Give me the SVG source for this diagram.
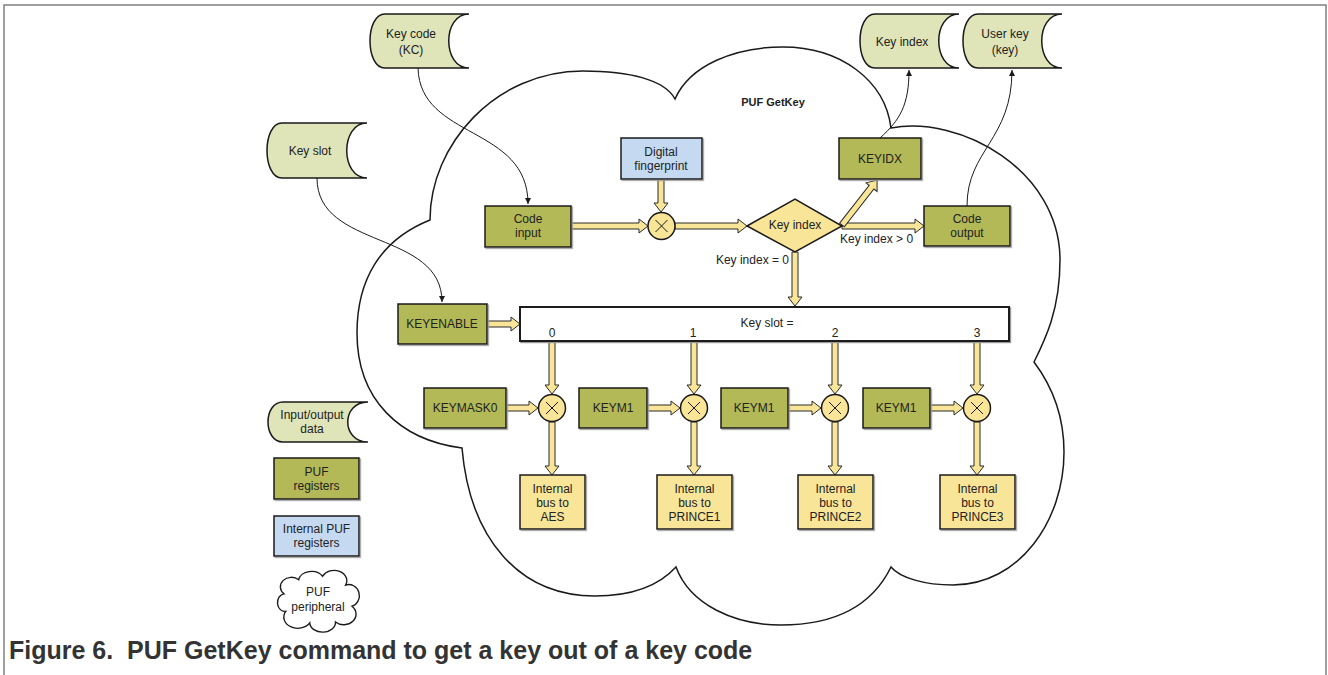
<svg xmlns="http://www.w3.org/2000/svg" width="1328" height="675" viewBox="0 0 1328 675">
<defs>
<style>
text{font-family:"Liberation Sans",Arial,sans-serif;font-size:12px;fill:#222;text-anchor:middle}
.olive{fill:#b2b957;stroke:#1a1a1a;stroke-width:1.5}
.blue{fill:#c5daf1;stroke:#1a1a1a;stroke-width:1.5}
.yel{fill:#f9e598;stroke:#1a1a1a;stroke-width:1.5}
.cyl{fill:#dfe5b9;stroke:#1a1a1a;stroke-width:1.5}
.bar{fill:#fff;stroke:#1a1a1a;stroke-width:2}
.blk{fill:#f9e598;stroke:#2a2a2a;stroke-width:1}
.thin{fill:none;stroke:#1a1a1a;stroke-width:1}
.cloud{fill:#fff;stroke:#1a1a1a;stroke-width:1.5}
.xmark{stroke:#1a1a1a;stroke-width:1}
.sh{filter:url(#ds)}
</style>
<filter id="ds" x="-10%" y="-10%" width="130%" height="130%"><feDropShadow dx="1.2" dy="1.2" stdDeviation="0.4" flood-color="#999"/></filter>
<marker id="ah" markerUnits="userSpaceOnUse" markerWidth="6" markerHeight="6" refX="6" refY="3" orient="auto"><path d="M0,0 L6,3 L0,6 z" fill="#1a1a1a"/></marker>
</defs>
<rect width="1328" height="675" fill="#fff"/>
<path d="M4,675 L4,5 L1326,5 L1326,675" fill="none" stroke="#808080" stroke-width="1.5"/>

<g id="cloud-main">
<path class="cloud" d="M430,220 C430,145 495,71 583,71 C630,71 665,80 675,99 C690,65 735,47 783,47 C840,47 885,80 891,128 C960,115 1060,170 1060,260 C1060,310 1045,340 1034,362 C1055,390 1064,420 1064,452 C1064,520 1020,585 953,585 C925,585 900,578 891,567 C870,610 830,625 781,625 C735,625 690,605 676,567 C655,590 625,596 595,596 C520,596 470,540 462,448 C400,440 357,400 357,333 C357,280 380,240 430,220 Z"/>
<text x="773" y="106" style="font-weight:bold;font-size:11px">PUF GetKey</text>
</g>

<g id="connectors">
<path class="thin" d="M418,68 C420,140 528,125 528,204" marker-end="url(#ah)"/>
<path class="thin" d="M317,178 C317,250 442,230 442,302" marker-end="url(#ah)"/>
<path class="thin" d="M880,138 C900,120 909,105 909,70" marker-end="url(#ah)"/>
<path class="thin" d="M967,206 C967,150 1012,140 1012,70" marker-end="url(#ah)"/>
<polygon class="blk" points="571,223 639,223 639,219 648,226 639,233 639,229 571,229"/>
<polygon class="blk" points="675,223 738,223 738,219 747,226 738,233 738,229 675,229"/>
<polygon class="blk" points="842,223 915,223 915,219 924,226 915,233 915,229 842,229"/>
<polygon class="blk" transform="translate(842,225) rotate(-52)" points="0,-3 48,-3 48,-7 57,0 48,7 48,3 0,3"/>
<polygon class="blk" points="487,321 511,321 511,317 520,324 511,331 511,327 487,327"/>
<polygon class="blk" points="506,405 529,405 529,401 538,408 529,415 529,411 506,411"/>
<polygon class="blk" points="647,405 671,405 671,401 680,408 671,415 671,411 647,411"/>
<polygon class="blk" points="788,405 812,405 812,401 821,408 812,415 812,411 788,411"/>
<polygon class="blk" points="930,405 954,405 954,401 963,408 954,415 954,411 930,411"/>
<polygon class="blk" points="658,179 664,179 664,203 668,203 661,212 654,203 658,203"/>
<polygon class="blk" points="792,252 798,252 798,297 802,297 795,306 788,297 792,297"/>
<polygon class="blk" points="549,341 555,341 555,385 559,385 552,394 545,385 549,385"/>
<polygon class="blk" points="691,341 697,341 697,385 701,385 694,394 687,385 691,385"/>
<polygon class="blk" points="832,341 838,341 838,385 842,385 835,394 828,385 832,385"/>
<polygon class="blk" points="974,341 980,341 980,385 984,385 977,394 970,385 974,385"/>
<polygon class="blk" points="549,422 555,422 555,466 559,466 552,475 545,466 549,466"/>
<polygon class="blk" points="691,422 697,422 697,466 701,466 694,475 687,466 691,466"/>
<polygon class="blk" points="832,422 838,422 838,466 842,466 835,475 828,466 832,466"/>
<polygon class="blk" points="974,422 980,422 980,466 984,466 977,475 970,466 974,466"/>
<text x="840" y="243" style="text-anchor:start">Key index &gt; 0</text>
<text x="789" y="264" style="text-anchor:end">Key index = 0</text>
</g>

<g id="key-code">
<path class="cyl" d="M385,14 L469,14 C442,14 442,68 469,68 L385,68 C365,68 365,14 385,14 Z"/>
<text x="411" y="38">Key code</text><text x="411" y="54">(KC)</text>
</g>
<g id="key-slot">
<path class="cyl" d="M282,123 L367,123 C340,123 340,178 367,178 L282,178 C262,178 262,123 282,123 Z"/>
<text x="310" y="155">Key slot</text>
</g>
<g id="key-index-out">
<path class="cyl" d="M875,14 L959,14 C932,14 932,68 959,68 L875,68 C855,68 855,14 875,14 Z"/>
<text x="902" y="46">Key index</text>
</g>
<g id="user-key">
<path class="cyl" d="M978,14 L1062,14 C1035,14 1035,68 1062,68 L978,68 C958,68 958,14 978,14 Z"/>
<text x="1005" y="38">User key</text><text x="1005" y="54">(key)</text>
</g>

<g id="digital-fingerprint">
<rect class="blue sh" x="621" y="138" width="81" height="41"/>
<text x="661" y="156">Digital</text><text x="661" y="170">fingerprint</text>
</g>
<g id="code-input">
<rect class="olive sh" x="485" y="206" width="86" height="41"/>
<text x="528" y="223">Code</text><text x="528" y="237">input</text>
</g>
<g id="xor-fp">
<circle class="yel" cx="661.5" cy="226" r="13.5"/>
<path class="xmark" d="M655.5,220 L667.5,232 M667.5,220 L655.5,232"/>
</g>
<g id="key-index-decision">
<polygon class="yel" points="747,226 795,199 842,226 795,252"/>
<text x="795" y="229">Key index</text>
</g>
<g id="keyidx">
<rect class="olive sh" x="839" y="138" width="82" height="41"/>
<text x="880" y="163">KEYIDX</text>
</g>
<g id="code-output">
<rect class="olive sh" x="924" y="206" width="86" height="40"/>
<text x="967" y="223">Code</text><text x="967" y="237">output</text>
</g>
<g id="keyenable">
<rect class="olive sh" x="398" y="304" width="89" height="40"/>
<text x="442" y="328">KEYENABLE</text>
</g>
<g id="key-slot-bar">
<rect class="bar sh" x="520" y="307" width="489" height="34"/>
<text x="767" y="327">Key slot =</text>
<text x="552" y="337">0</text><text x="693" y="337">1</text><text x="835" y="337">2</text><text x="977" y="337">3</text>
</g>
<g id="keymask0">
<rect class="olive sh" x="424" y="388" width="82" height="40"/>
<text x="465" y="412">KEYMASK0</text>
</g>
<g id="keym1-a">
<rect class="olive sh" x="579" y="388" width="68" height="40"/>
<text x="613" y="412">KEYM1</text>
</g>
<g id="keym1-b">
<rect class="olive sh" x="721" y="388" width="67" height="40"/>
<text x="754" y="412">KEYM1</text>
</g>
<g id="keym1-c">
<rect class="olive sh" x="863" y="388" width="67" height="40"/>
<text x="896" y="412">KEYM1</text>
</g>
<g id="xor-0"><circle class="yel" cx="552" cy="408" r="13.5"/><path class="xmark" d="M546,402 L558,414 M558,402 L546,414"/></g>
<g id="xor-1"><circle class="yel" cx="694" cy="408" r="13.5"/><path class="xmark" d="M688,402 L700,414 M700,402 L688,414"/></g>
<g id="xor-2"><circle class="yel" cx="835" cy="408" r="13.5"/><path class="xmark" d="M829,402 L841,414 M841,402 L829,414"/></g>
<g id="xor-3"><circle class="yel" cx="977" cy="408" r="13.5"/><path class="xmark" d="M971,402 L983,414 M983,402 L971,414"/></g>
<g id="bus-aes">
<rect class="yel sh" x="520" y="475" width="65" height="54"/>
<text x="552.5" y="493">Internal</text><text x="552.5" y="507">bus to</text><text x="552.5" y="521">AES</text>
</g>
<g id="bus-prince1">
<rect class="yel sh" x="657" y="475" width="75" height="54"/>
<text x="694.5" y="493">Internal</text><text x="694.5" y="507">bus to</text><text x="694.5" y="521">PRINCE1</text>
</g>
<g id="bus-prince2">
<rect class="yel sh" x="798" y="475" width="75" height="54"/>
<text x="835.5" y="493">Internal</text><text x="835.5" y="507">bus to</text><text x="835.5" y="521">PRINCE2</text>
</g>
<g id="bus-prince3">
<rect class="yel sh" x="940" y="475" width="75" height="54"/>
<text x="977.5" y="493">Internal</text><text x="977.5" y="507">bus to</text><text x="977.5" y="521">PRINCE3</text>
</g>

<g id="legend-io">
<path class="cyl" d="M283,402 L368,402 C341,402 341,442 368,442 L283,442 C263,442 263,402 283,402 Z"/>
<text x="312" y="419">Input/output</text><text x="312" y="433">data</text>
</g>
<g id="legend-puf-reg">
<rect class="olive sh" x="274" y="458" width="85" height="41"/>
<text x="316.5" y="476">PUF</text><text x="316.5" y="490">registers</text>
</g>
<g id="legend-int-reg">
<rect class="blue sh" x="274" y="516" width="85" height="40"/>
<text x="316.5" y="533">Internal PUF</text><text x="316.5" y="547">registers</text>
</g>
<g id="legend-cloud">
<path class="cloud" transform="translate(318,600) scale(0.92,0.88) translate(-319,-599)" d="M282,592 A11,10 0 0 1 298,576 A14,11 0 0 1 324,572 A13,11 0 0 1 349,582 A10,11 0 0 1 356,606 A11,10 0 0 1 338,624 A14,11 0 0 1 310,625 A12,10 0 0 1 284,612 A8,10 0 0 1 282,592 Z"/>
<text x="318" y="596">PUF</text><text x="318" y="611">peripheral</text>
</g>

<text x="9" y="659" xml:space="preserve" style="text-anchor:start;font-weight:bold;font-size:25px;fill:#333">Figure 6.  PUF GetKey command to get a key out of a key code</text>
</svg>
